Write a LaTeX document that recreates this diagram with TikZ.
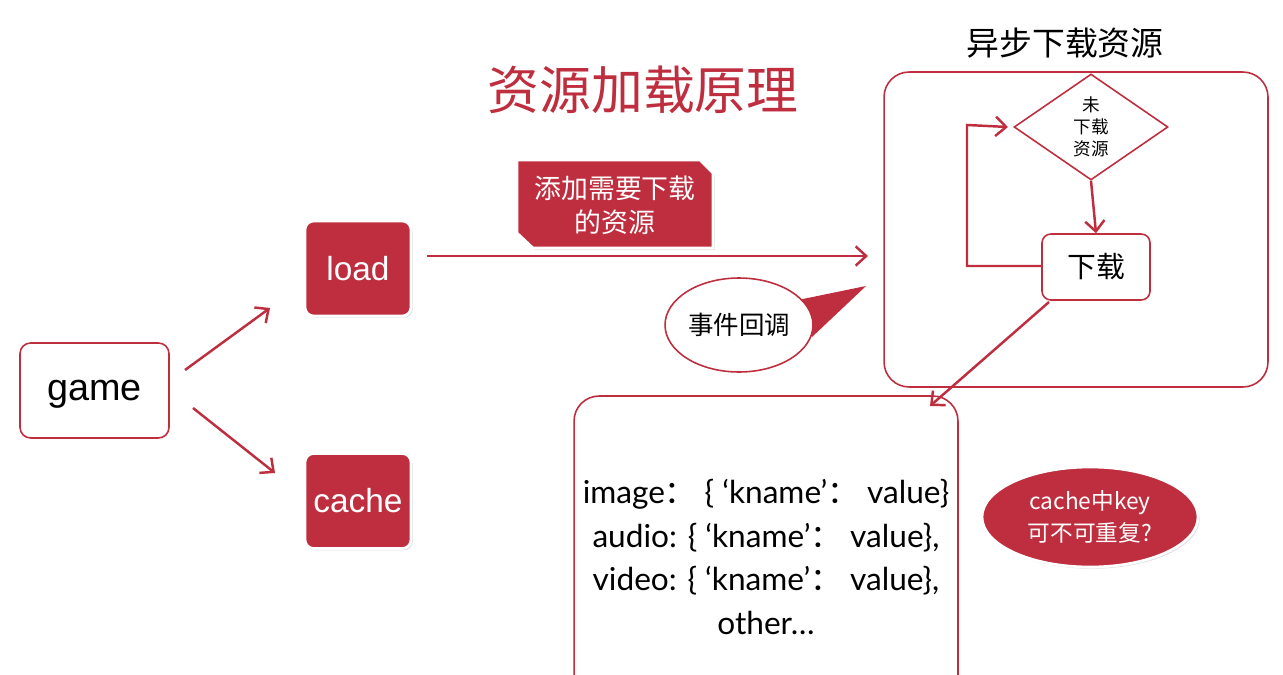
\documentclass[tikz,border=0pt]{standalone}
\usepackage{fontspec}
\setmainfont{Liberation Sans}
\newfontfamily\cjk{Noto Sans CJK SC}
\newfontfamily\lat{Lato}
\usetikzlibrary{arrows.meta,shapes.geometric,shadows}
\definecolor{myred}{RGB}{190,46,62}
\begin{document}
\begin{tikzpicture}[x=0.02cm,y=-0.02cm,
  line/.style={draw=myred, line width=1.4pt},
  arr/.style={line, -{Straight Barb[length=6pt,width=11pt,line width=1.4pt]}},
  wbox/.style={draw=myred, line width=0.9pt, fill=white, rounded corners=6pt, inner sep=0pt},
  rbox/.style={fill=myred, draw=white, line width=1.5pt, rounded corners=5pt, inner sep=0pt,
    text=white, minimum width=2.12cm, minimum height=1.9cm, font=\fontsize{19pt}{22pt}\selectfont,
    drop shadow={opacity=0.25, shadow xshift=1pt, shadow yshift=-1pt}},
  cjkt/.style={font=\cjk\fontsize{#1}{\dimexpr #1*5/4\relax}\selectfont}
]
\useasboundingbox (0,0) rectangle (1283,675);
\clip (0,0) rectangle (1283,675);

% title
\node[text=myred, cjkt=29.5pt] (title) at (643,90) {资源加载原理};
\node[cjkt=18.7pt] (asynctitle) at (1065,43) {异步下载资源};

% left nodes
\node[wbox, minimum width=2.98cm, minimum height=1.9cm, text depth=0pt, font=\fontsize{21.5pt}{24pt}\selectfont] (game) at (94.5,390.5) {game};
\node[rbox] (load) at (358,268.5) {load};
\node[rbox] (cache) at (358,501) {cache};

\coordinate (g1) at (185,370);
\coordinate (l1) at (270,308);
\coordinate (g2) at (193,408);
\coordinate (c1) at (275,473);
\draw[arr] (g1) -- (l1);
\draw[arr] (g2) -- (c1);

% load -> async
\coordinate (la) at (427,256);
\coordinate (lb) at (868,256);
\draw[arr] (la) -- (lb);

% callout
\fill[myred, draw=white, line width=1.5pt, drop shadow={opacity=0.25, shadow xshift=1pt, shadow yshift=-1pt}]
  (517,160) -- (700,160) -- (713,173) -- (713,248) -- (533,248) -- (517,233) -- cycle;
\node[text=white, cjkt=15.3pt, align=center] (calltext) at (615,205) {添加需要下载\\的资源};

% speech bubble
\fill[myred] (798,300) -- (866,286) -- (812,337) -- cycle;
\node[ellipse, draw=myred, line width=0.9pt, fill=white, minimum width=2.96cm, minimum height=1.88cm, inner sep=0pt, cjkt=14.5pt] (bubble) at (739,325) {事件回调};

% store box
\node[wbox, rounded corners=0.5cm, minimum width=7.68cm, minimum height=6.6cm] (store) at (766,561) {};
\node[align=center, font=\lat\fontsize{18pt}{25pt}\selectfont] (storetext) at (766,557)
  {image{\cjk：} \{ ‘kname’{\cjk：} value\}\\audio: \{ ‘kname’{\cjk：} value\},\\video: \{ ‘kname’{\cjk：} value\},\\other…};

% async box
\node[wbox, rounded corners=0.5cm, minimum width=7.68cm, minimum height=6.3cm] (async) at (1076,229.5) {};
\node[diamond, draw=myred, line width=0.9pt, fill=white, minimum width=3.08cm, minimum height=2.12cm, inner sep=0pt, align=center, cjkt=10pt] (dia) at (1091,127) {未\\下载\\资源};
\node[wbox, rounded corners=5pt, minimum width=2.16cm, minimum height=1.32cm, cjkt=16.4pt] (dl) at (1096,267) {下载};
\draw[arr] (dia.south) -- (dl.north);
\coordinate (lp1) at (967,266);
\coordinate (lp2) at (967,125);
\draw[arr] (dl.west |- lp1) -- (lp1) -- (lp2) -- ([xshift=-3pt]dia.west);
\coordinate (dlb) at (1049,302);
\coordinate (st) at (930,406);
\draw[arr] (dlb) -- (st);

% red ellipse
\node[ellipse, fill=myred, draw=white, line width=1.5pt, minimum width=4.32cm, minimum height=2cm, inner sep=0pt,
  text=white, align=center, font=\cjk\fontsize{12.9pt}{18pt}\selectfont,
  drop shadow={opacity=0.25, shadow xshift=1pt, shadow yshift=-1pt}] (q) at (1090,517) {cache中key\\可不可重复?};
\end{tikzpicture}
\end{document}
